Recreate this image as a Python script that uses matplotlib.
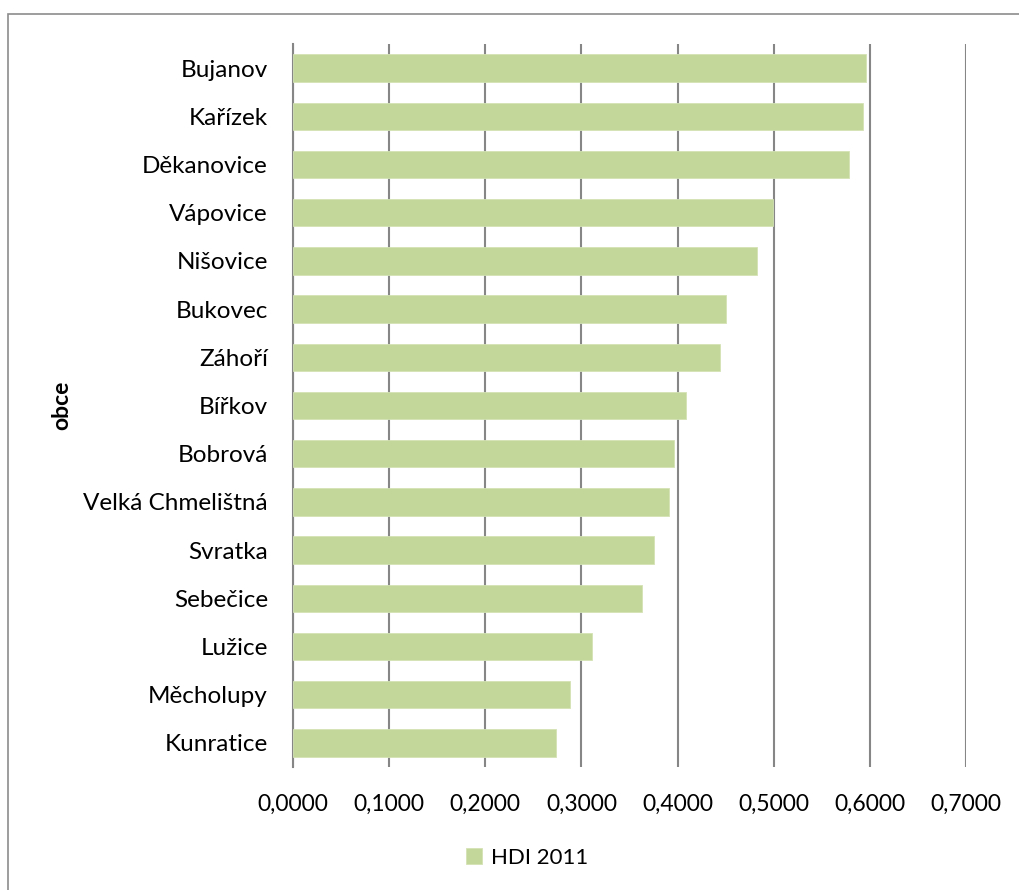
import matplotlib
matplotlib.use("Agg")
import matplotlib.pyplot as plt
from matplotlib.patches import Rectangle

categories = ["Bujanov", "Kařízek", "Děkanovice", "Vápovice", "Nišovice", "Bukovec",
              "Záhoří", "Bířkov", "Bobrová", "Velká Chmelištná", "Svratka", "Sebečice",
              "Lužice", "Měcholupy", "Kunratice"]
hdi_2011 = [0.5956, 0.5928, 0.5780, 0.4995, 0.4825, 0.4500, 0.4438, 0.4086, 0.3958,
            0.3910, 0.3753, 0.3632, 0.3110, 0.2886, 0.2734]
xticks = [0.0, 0.1, 0.2, 0.3, 0.4, 0.5, 0.6, 0.7]
xtick_labels = ["0,0000", "0,1000", "0,2000", "0,3000", "0,4000", "0,5000", "0,6000", "0,7000"]

plt.rcParams['font.family'] = ['Lato', 'DejaVu Sans']

W, H = 1019, 890
fig = plt.figure(figsize=(W / 100, H / 100), dpi=100)
fig.patches.append(Rectangle((8 / W, -0.1), 1.2, 1 - 14 / H + 0.1, transform=fig.transFigure,
                             fill=False, edgecolor="#8c8c8c", linewidth=1.2))

ax = fig.add_axes([293 / W, 1 - 767 / H, (966 - 293) / W, (767 - 44) / H])
ypos = list(range(len(categories)))
ax.barh(ypos, hdi_2011, height=0.57, color="#c4d79b", edgecolor="#d3e2b4", linewidth=0.6,
        label="HDI 2011", zorder=3)
ax.set_ylim(len(categories) - 0.5, -0.5)
ax.set_xlim(0, 0.7)
ax.set_yticks(ypos)
ax.set_yticklabels(categories, fontsize=17.5)
ax.set_xticks(xticks)
ax.set_xticklabels(xtick_labels, fontsize=16.5)
ax.tick_params(axis='y', length=0, pad=18)
ax.tick_params(axis='x', length=0, pad=19)
ax.grid(axis='x', color="#868686", linewidth=1.5, zorder=0)
for s in ["top", "right", "bottom"]:
    ax.spines[s].set_visible(False)
ax.spines["left"].set_color("#868686")
ax.spines["left"].set_linewidth(1.5)
ax.set_ylabel("obce", fontsize=16.5, fontweight="bold")
ax.yaxis.set_label_coords(-(293 - 72) / (966 - 293), 0.5)

fig.legend(loc="center", bbox_to_anchor=(527 / W, 1 - 858 / H), frameon=False,
           fontsize=16, handlelength=0.7, handleheight=0.7, handletextpad=0.4)

fig.savefig("out.png", dpi=100)
